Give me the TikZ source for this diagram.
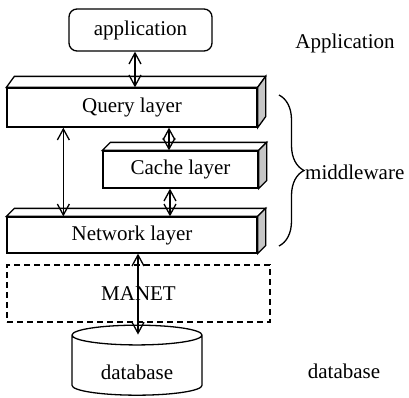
\documentclass[tikz,border=0pt]{standalone}
\usepackage{fontspec}
\setmainfont{Liberation Serif}
\usetikzlibrary{shapes.geometric,arrows.meta,calc,decorations.pathreplacing}

\begin{document}
\begin{tikzpicture}[
  x=1pt, y=-1pt,
  txt/.style={font=\fontsize{21}{25}\selectfont},
  layer/.style 2 args={draw, line width=1.3pt, fill=white, txt,
    minimum width=#1, minimum height=#2, inner sep=0pt},
  biarr/.style={<->, >={Straight Barb[length=11pt,width=12pt]}, line width=1.3pt}
]
  \useasboundingbox (0,0) rectangle (409,397);

  % Application box
  \node[draw, line width=1.3pt, rounded corners=8pt, minimum width=143pt,
    minimum height=42pt, txt] (app) at (140.5,30) {application};

  % Layers
  \node[layer={250pt}{39pt}] (query) at (132,107.5) {Query layer};
  \node[layer={155pt}{37pt}] (cache) at (180.5,169.5) {Cache layer};
  \node[layer={250pt}{36pt}] (network) at (132,235) {Network layer};

  \foreach \n/\d in {query/11,cache/8,network/8} {
    \draw[line width=1.3pt, fill=white] (\n.north west) -- ++(8,-\d)
      -- ($(\n.north east)+(8,-\d)$) -- (\n.north east) -- cycle;
    \draw[line width=1.3pt, fill=gray!45] (\n.north east) -- ++(8,-\d)
      -- ($(\n.south east)+(8,-\d)$) -- (\n.south east) -- cycle;
  }

  % MANET and database
  \node[draw, line width=1.3pt, dash pattern=on 6pt off 4pt, minimum width=263pt,
    minimum height=57pt, txt] (manet) at (138.5,293.5) {MANET};
  \node[cylinder, shape border rotate=90, draw, line width=1.3pt, aspect=0.25,
    minimum width=130pt, minimum height=70pt, txt, text height=24pt,
    text depth=0pt] (db) at (137,367) {database};

  % Arrows
  \draw[biarr] (app.south) ++(-5.5,0) coordinate (a1) -- (a1 |- query.north);
  \draw[biarr] (query.south west) ++(57,0) coordinate (a2) -- (a2 |- network.north);
  \draw[biarr] (cache.north) ++(-11.5,0) coordinate (a3) -- (a3 |- query.south);
  \draw[biarr] (cache.south) ++(-10.5,0) coordinate (a4) -- (a4 |- network.north);
  \draw[biarr] (network.south) ++(6,0) coordinate (a5) -- ($(a5 |- db.top)+(0,10)$);

  % Brace
  \coordinate (btop) at (279,95);
  \coordinate (bbot) at (279,246);
  \draw[line width=1.3pt, decorate, decoration={brace, amplitude=25pt}] (btop) -- (bbot);

  % Side labels
  \node[txt] (lapp) at (345,43) {Application};
  \node[txt, anchor=west, inner sep=0pt] (mw) at (305,172.5) {middleware};
  \node[txt] (ldb) at (344,371) {database};
\end{tikzpicture}
\end{document}
